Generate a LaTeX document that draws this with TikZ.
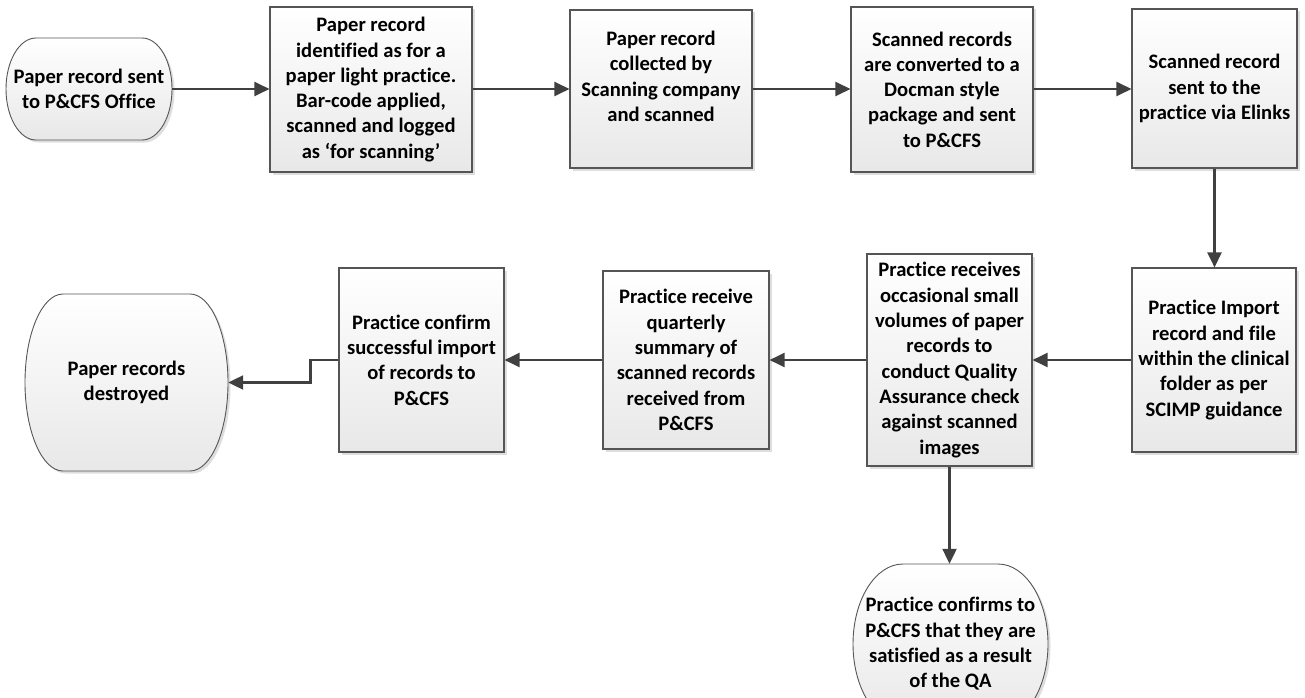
\documentclass[tikz,border=0pt]{standalone}
\usepackage{fontspec}
\setmainfont[Ligatures={TeX,NoCommon}]{Carlito}
\usetikzlibrary{arrows.meta,shadows}
\definecolor{boxline}{HTML}{555555}
\definecolor{boxbot}{HTML}{E8E8E8}
\definecolor{arrowc}{HTML}{404040}
\newcommand\drawterm[5]{%
  \pgfmathsetmacro\tXl{#1-#3/2}\pgfmathsetmacro\tXr{#1+#3/2}%
  \pgfmathsetmacro\tYt{#2-#4/2}\pgfmathsetmacro\tYb{#2+#4/2}%
  \pgfmathsetmacro\tKx{0.5523*#5}\pgfmathsetmacro\tKy{0.5523*#4/2}%
  \draw[termshape] (\tXl+#5,\tYt) -- (\tXr-#5,\tYt)
    .. controls (\tXr-#5+\tKx,\tYt) and (\tXr,#2-\tKy) .. (\tXr,#2)
    .. controls (\tXr,#2+\tKy) and (\tXr-#5+\tKx,\tYb) .. (\tXr-#5,\tYb)
    -- (\tXl+#5,\tYb)
    .. controls (\tXl+#5-\tKx,\tYb) and (\tXl,#2+\tKy) .. (\tXl,#2)
    .. controls (\tXl,#2-\tKy) and (\tXl+#5-\tKx,\tYt) .. (\tXl+#5,\tYt) -- cycle;}
\begin{document}
\begin{tikzpicture}[x=1bp,y=-1bp,
  txt/.style={align=center, inner sep=0pt, font=\bfseries\fontsize{20.6bp}{25.3bp}\selectfont},
  shadowed/.style={drop shadow={shadow xshift=2.5bp, shadow yshift=-2.5bp, fill=black, opacity=0.13}},
  box/.style={txt, draw=boxline, line width=1.1bp, top color=white, bottom color=boxbot, shadowed},
  termshape/.style={draw=boxline, line width=0.9bp, top color=white, bottom color=boxbot, shadowed},
  termnode/.style={txt, rectangle},
  flow/.style={draw=arrowc, line width=2.2bp, -{Triangle[length=15bp,width=14bp]}}
]
\useasboundingbox (0,0) rectangle (1305,697);
\clip (0,0) rectangle (1305,697);

% terminator outlines
\drawterm{89}{89}{166}{102}{30}
\drawterm{126.5}{382.5}{203}{177}{38}
\drawterm{950.5}{644}{195}{160}{50}

% terminator nodes
\node[termnode, minimum width=166bp, minimum height=102bp] (t1) at (89,89) {Paper record sent\\to P\&CFS Office};
\node[termnode, minimum width=203bp, minimum height=177bp] (t2) at (126.5,382.5) {Paper records\\destroyed};
\node[termnode, minimum width=195bp, minimum height=160bp] (t3) at (950.5,644) {Practice confirms to\\P\&CFS that they are\\satisfied as a result\\of the QA};

% process boxes
\node[box, minimum width=202bp, minimum height=165bp] (b1) at (371,89.5) {Paper record\\identified as for a\\paper light practice.\\Bar-code applied,\\scanned and logged\\as `for scanning'};
\node[box, minimum width=182bp, minimum height=158bp] (b2) at (661,89) {Paper record\\collected by\\Scanning company\\and scanned\\~};
\node[box, minimum width=182bp, minimum height=165bp] (b3) at (942,89.5) {Scanned records\\are converted to a\\Docman style\\package and sent\\to P\&CFS};
\node[box, minimum width=165bp, minimum height=159bp] (b4) at (1214.5,88.5) {Scanned record\\sent to the\\practice via Elinks};
\node[box, minimum width=164bp, minimum height=184bp] (b5) at (1214,360) {Practice Import\\record and file\\within the clinical\\folder as per\\SCIMP guidance};
\node[box, minimum width=165bp, minimum height=212bp] (b6) at (949.5,360) {Practice receives\\occasional small\\volumes of paper\\records to\\conduct Quality\\Assurance check\\against scanned\\images};
\node[box, minimum width=166bp, minimum height=178bp] (b7) at (686,360) {Practice receive\\quarterly\\summary of\\scanned records\\received from\\P\&CFS};
\node[box, minimum width=165bp, minimum height=184bp] (b8) at (421.5,360) {Practice confirm\\successful import\\of records to\\P\&CFS};

% connectors
\draw[flow] (t1.east) -- (t1.east -| b1.west);
\draw[flow] (b1.east |- t1.east) -- (t1.east -| b2.west);
\draw[flow] (b2.east |- t1.east) -- (t1.east -| b3.west);
\draw[flow] (b3.east |- t1.east) -- (t1.east -| b4.west);
\draw[flow] (b4.south) -- (b4.south |- b5.north);
\draw[flow] (b5.west) -- (b6.east);
\draw[flow] (b6.west) -- (b7.east);
\draw[flow] (b7.west) -- (b8.east);
\draw[flow] (b8.west) -- ++(-28,0) |- (t2.east);
\draw[flow] (b6.south) -- (b6.south |- t3.north);
\end{tikzpicture}
\end{document}
